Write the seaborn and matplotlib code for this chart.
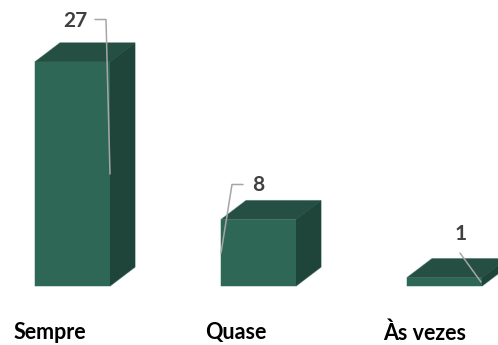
import matplotlib
matplotlib.use("Agg")
import matplotlib.pyplot as plt
import seaborn as sns
import pandas as pd
from matplotlib.patches import Polygon
from matplotlib.transforms import ScaledTranslation

categories = ["Sempre", "Quase", "Às vezes"]
values = [27, 8, 1]
value_labels = ["27", "8", "1"]

W, H = 498, 345
DPI = 100
FONT = "Lato"
sns.set_theme(style="white")
plt.rcParams["font.family"] = [FONT, "DejaVu Sans"]

FRONT, TOP, SIDE = "#2f6756", "#254f42", "#1f453a"
HALO = "#b4cac2"
TEXT_DARK = "#404040"
LEADER = "#a6a6a6"

fig = plt.figure(figsize=(W / DPI, H / DPI), dpi=DPI, facecolor="white")
base_px, px_per_unit, step_px, first_px = 286, 8.3, 186, 72.5
ax = fig.add_axes([0, 1 - base_px / H, 1, base_px / H])

df = pd.DataFrame({"cat": categories, "val": values})
sns.barplot(data=df, x="cat", y="val", color=FRONT, saturation=1, width=75 / step_px,
            ax=ax, zorder=3, linewidth=0)

ax.set_xlim(-first_px / step_px, (W - first_px) / step_px)
ax.set_ylim(0, base_px / px_per_unit)
ax.set_xlabel("")
ax.set_ylabel("")
ax.set_yticks([])
sns.despine(ax=ax, left=True, bottom=True, top=True, right=True)

# 3D depth faces derived from each bar
dx, dy = 25 / step_px, 19 / px_per_unit
for bar in ax.patches[:]:
    x0, w, h = bar.get_x(), bar.get_width(), bar.get_height()
    x1 = x0 + w
    ax.add_patch(Polygon([(x0, 0), (x1, 0), (x1 + dx, dy), (x1 + dx, h + dy), (x0 + dx, h + dy), (x0, h)],
                         closed=True, fc=HALO, ec=HALO, lw=1.0, zorder=1, clip_on=False))
    ax.add_patch(Polygon([(x0, h), (x1, h), (x1 + dx, h + dy), (x0 + dx, h + dy)],
                         closed=True, fc=TOP, ec=TOP, lw=0.2, zorder=2, clip_on=False))
    ax.add_patch(Polygon([(x1, 0), (x1 + dx, dy), (x1 + dx, h + dy), (x1, h)],
                         closed=True, fc=SIDE, ec=SIDE, lw=0.2, zorder=2, clip_on=False))

# category labels
ax.tick_params(axis="x", length=0, pad=26)
shifts = [-22.5, -22.5, -19.5]
for lab, s in zip(ax.get_xticklabels(), shifts):
    lab.set_fontsize(15.5)
    lab.set_fontweight("bold")
    lab.set_color("black")
    lab.set_transform(lab.get_transform() + ScaledTranslation(s / DPI, 0, fig.dpi_scale_trans))

def P(x, y):
    return (x / W, 1 - y / H)

# value labels with leader lines
label_pos = [(75, 21), (258, 185), (461, 234)]
leaders = [
    [(95, 19.5), (106, 19.5), (110, 174)],
    [(243, 184.5), (232, 184.5), (221, 253)],
    [(460, 253), (481, 282)],
]
for txt, (lx, ly), pts in zip(value_labels, label_pos, leaders):
    fig.text(*P(lx, ly), txt, ha="center", va="center", fontsize=15,
             fontweight="bold", color=TEXT_DARK)
    xs, ys = zip(*[P(*p) for p in pts])
    line = plt.Line2D(xs, ys, transform=fig.transFigure, color=LEADER, lw=1.1, zorder=10)
    fig.add_artist(line)

fig.savefig("out.png", dpi=DPI, facecolor="white")
